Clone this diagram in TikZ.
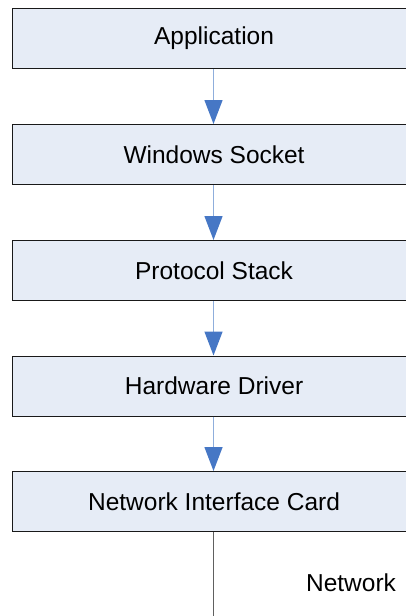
\documentclass[tikz,border=0pt]{standalone}
\usepackage{fontspec}
\setmainfont{Liberation Sans}
\usetikzlibrary{arrows.meta}
\definecolor{boxfill}{HTML}{E6ECF6}
\definecolor{linkblue}{HTML}{8FAEDC}
\definecolor{headblue}{HTML}{4677C5}
\definecolor{netgrey}{HTML}{606060}
\tikzset{
  layer/.style={draw=black!90, line width=1.1pt, fill=boxfill, rectangle,
    minimum width=403pt, minimum height=60pt, inner sep=0pt, anchor=north west,
    font=\fontsize{24.5pt}{28pt}\selectfont},
  link/.style={draw=linkblue, line width=1.4pt,
    -{Triangle[length=24pt,width=18pt,color=headblue]}},
  netline/.style={draw=netgrey, line width=1.1pt},
  lbl/.style={font=\fontsize{24.5pt}{28pt}\selectfont, inner sep=0pt}
}
\begin{document}
\begin{tikzpicture}[x=1pt,y=-1pt]
\useasboundingbox (0,0) rectangle (406,616);
\clip (0,0) rectangle (406,616);
\node[layer] (app) at (12,8) {Application};
\node[layer] (sock) at (12,124) {Windows Socket};
\node[layer] (proto) at (12,240) {Protocol Stack};
\node[layer] (hw) at (12,355.5) {Hardware Driver};
\node[layer] (nic) at (12,471) {Network Interface Card};
\coordinate (netend) at (213.5,630);
\draw[link] (app.south -| 213.5,0) -- (sock.north -| 213.5,0);
\draw[link] (sock.south -| 213.5,0) -- (proto.north -| 213.5,0);
\draw[link] (proto.south -| 213.5,0) -- (hw.north -| 213.5,0);
\draw[link] (hw.south -| 213.5,0) -- (nic.north -| 213.5,0);
\draw[netline] (nic.south -| netend) -- (netend);
\node[lbl] (net) at (351,583) {Network};
\end{tikzpicture}
\end{document}
